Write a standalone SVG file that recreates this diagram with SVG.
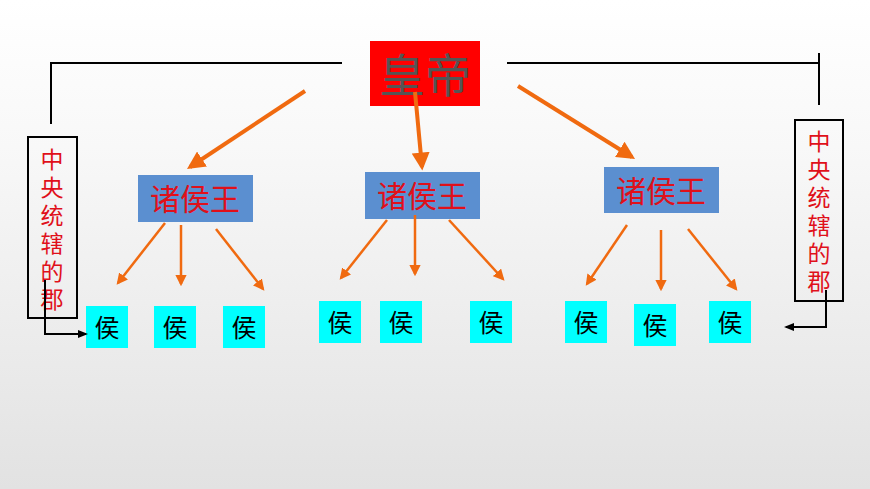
<svg xmlns="http://www.w3.org/2000/svg" width="870" height="489" viewBox="0 0 870 489">
<defs>
<linearGradient id="bg" x1="0" y1="0" x2="0" y2="1"><stop offset="0" stop-color="#ffffff"/><stop offset="0.3" stop-color="#f8f8f8"/><stop offset="1" stop-color="#e2e2e2"/></linearGradient>
<marker id="ao" viewBox="0 0 10 10" refX="8" refY="5" markerWidth="4.5" markerHeight="4.5" orient="auto"><path d="M0,0L10,5L0,10z" fill="#f06a10"/></marker>
<marker id="ab" viewBox="0 0 10 10" refX="8" refY="5" markerWidth="5" markerHeight="5" orient="auto"><path d="M0,1L10,5L0,9z" fill="#000"/></marker>
</defs>
<style>
.k{fill:#5b8fd0}.h{fill:#00ffff}
.kt{font-family:"Noto Sans CJK SC",sans-serif;font-size:30px;fill:#e0101a;text-anchor:middle}
.ht{font-family:"Noto Sans CJK SC",sans-serif;font-size:25px;fill:#000;text-anchor:middle}
.vt{font-family:"Noto Sans CJK SC",sans-serif;font-size:23px;fill:#e0101a;text-anchor:middle}
.o1{stroke:#f06a10;stroke-width:4;fill:none;marker-end:url(#ao)}
.o2{stroke:#f06a10;stroke-width:2.5;fill:none;marker-end:url(#ao)}
.bl{stroke:#000;stroke-width:2;fill:none}
</style>
<rect width="870" height="489" fill="url(#bg)"/>
<g id="emperor"><rect x="370" y="41" width="110" height="65" fill="#ff0000"/><text x="425" y="92" font-family="Noto Sans CJK SC,sans-serif" font-size="46" fill="#555" text-anchor="middle">皇帝</text></g>
<g id="jun-left"><rect x="28" y="137" width="49" height="181" fill="none" stroke="#000" stroke-width="2"/><text class="vt"><tspan x="52" y="168">中</tspan><tspan x="52" y="196">央</tspan><tspan x="52" y="224">统</tspan><tspan x="52" y="252">辖</tspan><tspan x="52" y="280">的</tspan><tspan x="52" y="308">郡</tspan></text></g>
<g id="jun-right"><rect x="795" y="120" width="48" height="181" fill="none" stroke="#000" stroke-width="2"/><text class="vt"><tspan x="819" y="150">中</tspan><tspan x="819" y="178">央</tspan><tspan x="819" y="206">统</tspan><tspan x="819" y="234">辖</tspan><tspan x="819" y="262">的</tspan><tspan x="819" y="290">郡</tspan></text></g>
<g id="king1"><rect class="k" x="138" y="175" width="115" height="47"/><text class="kt" x="195" y="210">诸侯王</text></g>
<g id="king2"><rect class="k" x="365" y="172" width="115" height="47"/><text class="kt" x="422" y="207">诸侯王</text></g>
<g id="king3"><rect class="k" x="604" y="167" width="115" height="46"/><text class="kt" x="661" y="202">诸侯王</text></g>
<g id="hou1"><rect class="h" x="86" y="306" width="42" height="42"/><text class="ht" x="107" y="337">侯</text></g>
<g id="hou2"><rect class="h" x="154" y="306" width="42" height="42"/><text class="ht" x="175" y="337">侯</text></g>
<g id="hou3"><rect class="h" x="223" y="306" width="42" height="42"/><text class="ht" x="244" y="337">侯</text></g>
<g id="hou4"><rect class="h" x="319" y="301" width="42" height="42"/><text class="ht" x="340" y="332">侯</text></g>
<g id="hou5"><rect class="h" x="380" y="301" width="42" height="42"/><text class="ht" x="401" y="332">侯</text></g>
<g id="hou6"><rect class="h" x="470" y="301" width="42" height="42"/><text class="ht" x="491" y="332">侯</text></g>
<g id="hou7"><rect class="h" x="565" y="301" width="42" height="42"/><text class="ht" x="586" y="332">侯</text></g>
<g id="hou8"><rect class="h" x="634" y="304" width="42" height="42"/><text class="ht" x="655" y="335">侯</text></g>
<g id="hou9"><rect class="h" x="709" y="301" width="42" height="42"/><text class="ht" x="730" y="332">侯</text></g>
<g id="connectors">
<path class="bl" d="M342,63H51V124"/>
<path class="bl" d="M507,63H819M819,53V105"/>
<path class="bl" d="M45,280V334H86" marker-end="url(#ab)"/>
<path class="bl" d="M826,290V327H786" marker-end="url(#ab)"/>
<line class="o1" x1="305" y1="91" x2="190" y2="167"/>
<line class="o1" x1="415" y1="92" x2="422" y2="167"/>
<line class="o1" x1="518" y1="86" x2="632" y2="157"/>
<line class="o2" x1="165" y1="223" x2="118" y2="283"/>
<line class="o2" x1="181" y1="225" x2="181" y2="284"/>
<line class="o2" x1="216" y1="229" x2="263" y2="289"/>
<line class="o2" x1="387" y1="220" x2="341" y2="278"/>
<line class="o2" x1="415" y1="215" x2="415" y2="274"/>
<line class="o2" x1="449" y1="220" x2="503" y2="279"/>
<line class="o2" x1="627" y1="225" x2="587" y2="284"/>
<line class="o2" x1="661" y1="230" x2="661" y2="289"/>
<line class="o2" x1="688" y1="229" x2="736" y2="289"/>
</g>
</svg>
